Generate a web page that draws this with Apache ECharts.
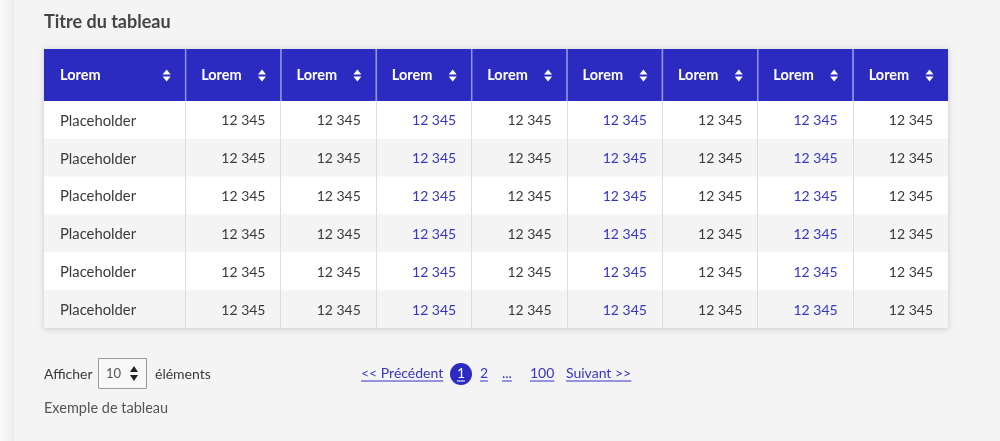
<!DOCTYPE html>
<html><head><meta charset="utf-8">
<script src="https://cdn.jsdelivr.net/npm/echarts@6/dist/echarts.min.js"></script>
<style>html,body{margin:0;padding:0;background:#f4f4f4}#c{width:1000px;height:441px}</style>
</head><body><div id="c"></div>
<script>
// ---- data ----
const title = 'Titre du tableau';
const headers = ['Lorem','Lorem','Lorem','Lorem','Lorem','Lorem','Lorem','Lorem','Lorem'];
const rowLabels = ['Placeholder','Placeholder','Placeholder','Placeholder','Placeholder','Placeholder'];
const values = [
  [12345,12345,12345,12345,12345,12345,12345,12345],
  [12345,12345,12345,12345,12345,12345,12345,12345],
  [12345,12345,12345,12345,12345,12345,12345,12345],
  [12345,12345,12345,12345,12345,12345,12345,12345],
  [12345,12345,12345,12345,12345,12345,12345,12345],
  [12345,12345,12345,12345,12345,12345,12345,12345]
];
const linkValueCols = [2,4,6];
const pageSizeLabel = ['Afficher','10','éléments'];
const pages = ['1','2','...','100'];
const prevLabel = '<< Précédent';
const nextLabel = 'Suivant >>';
const caption = 'Exemple de tableau';

// ---- layout constants ----
const FONT = 'Lato, "Noto Sans", sans-serif';
const BLUE = '#2b2bc2';
const LINK = '#3535c6';
const TEXT = '#3a3a3a';
const FIRST_W = 1.48;          // first column width in column units
const HEAD_H = 1.375;          // header height in row units
const nCols = headers.length;
const nRows = rowLabels.length;
const X_MAX = FIRST_W + (nCols - 1);
const Y_MAX = HEAD_H + nRows;
const colStart = c => c === 0 ? 0 : FIRST_W + (c - 1);
const colEnd = c => c === 0 ? FIRST_W : FIRST_W + c;
const fmt = v => String(v).replace(/\B(?=(\d{3})+(?!\d))/g, ' ');

const headerData = headers.map((h, i) => [i, h]);
const bodyData = [];
rowLabels.forEach((lab, r) => {
  bodyData.push([0, r, lab, 0]);
  values[r].forEach((v, j) => bodyData.push([j + 1, r, fmt(v), linkValueCols.includes(j) ? 1 : 0]));
});

const mctx = document.createElement('canvas').getContext('2d');
function tw(t, font) { mctx.font = font; return mctx.measureText(t).width; }

function sortIcon(cx, cy, color) {
  return [
    {type:'polygon', shape:{points:[[cx-4,cy-1],[cx+4,cy-1],[cx,cy-6]]}, style:{fill:color}},
    {type:'polygon', shape:{points:[[cx-4,cy+1],[cx+4,cy+1],[cx,cy+6]]}, style:{fill:color}}
  ];
}

const chart = echarts.init(document.getElementById('c'), null, {renderer:'canvas'});

// pagination graphics
const pagFont = '14px ' + FONT;
const pg = [];
function linkText(x, y, t, color) {
  const w = tw(t, pagFont);
  pg.push({type:'text', x:x, y:y, style:{text:t, fill:color, font:pagFont, textVerticalAlign:'middle'}});
  pg.push({type:'line', shape:{x1:x, y1:y+8, x2:x+w, y2:y+8}, style:{stroke:color, lineWidth:1}});
}
const py = 373;
linkText(361, py, prevLabel, LINK);
pg.push({type:'circle', shape:{cx:461, cy:py+1, r:11}, style:{fill:BLUE}});
(function(){ const w = tw(pages[0], pagFont); linkText(461 - w/2, py, pages[0], '#ffffff'); })();
linkText(480, py, pages[1], LINK);
linkText(502, py, pages[2], LINK);
linkText(530, py, pages[3], LINK);
linkText(566, py, nextLabel, LINK);

chart.setOption({
  backgroundColor:'#f4f4f4',
  animation:false,
  title:{text:title, left:44, top:13, padding:0, textStyle:{fontFamily:FONT, fontWeight:'bold', fontSize:18, color:'#444'}},
  grid:{left:44, top:49, width:904, height:279},
  xAxis:{type:'value', min:0, max:X_MAX, show:false},
  yAxis:{type:'value', min:0, max:Y_MAX, inverse:true, show:false},
  graphic:[
    {type:'rect', shape:{x:0, y:0, width:14, height:441}, z:-1,
     style:{fill:new echarts.graphic.LinearGradient(0,0,1,0,[{offset:0,color:'#fbfbfb'},{offset:0.6,color:'#f3f3f3'},{offset:1,color:'#ececec'}])}},
    {type:'text', x:44, y:374, style:{text:pageSizeLabel[0], font:'14px '+FONT, fill:TEXT, textVerticalAlign:'middle'}},
    {type:'rect', shape:{x:98.5, y:358.5, width:48, height:30}, style:{fill:'#f8f8f8', stroke:'#9a9a9a', lineWidth:1}},
    {type:'text', x:106, y:374, style:{text:pageSizeLabel[1], font:'13px '+FONT, fill:'#555', textVerticalAlign:'middle'}},
    {type:'polygon', shape:{points:[[130,372],[138,372],[134,366]]}, style:{fill:'#222'}},
    {type:'polygon', shape:{points:[[130,375],[138,375],[134,381]]}, style:{fill:'#222'}},
    {type:'text', x:155, y:374, style:{text:pageSizeLabel[2], font:'14px '+FONT, fill:TEXT, textVerticalAlign:'middle'}},
    {type:'text', x:44, y:408, style:{text:caption, font:'14.5px '+FONT, fill:'#555', textVerticalAlign:'middle'}}
  ].concat(pg),
  series:[
    { // table shadow / background
      type:'custom', z:1, data:[[0]],
      renderItem:function(params, api){
        const a = api.coord([0,0]), b = api.coord([X_MAX, Y_MAX]);
        return {type:'rect', shape:{x:a[0], y:a[1], width:b[0]-a[0], height:b[1]-a[1]},
          style:{fill:'#ffffff', shadowBlur:6, shadowColor:'rgba(0,0,0,0.18)', shadowOffsetY:1}};
      }
    },
    { // header
      type:'custom', z:3, data:headerData,
      renderItem:function(params, api){
        const c = api.value(0);
        const a = api.coord([colStart(c), 0]), b = api.coord([colEnd(c), HEAD_H]);
        const cy = (a[1]+b[1])/2;
        const ch = [
          {type:'rect', shape:{x:a[0], y:a[1], width:b[0]-a[0], height:b[1]-a[1]}, style:{fill:BLUE}},
          {type:'text', x:a[0]+16, y:cy+0.5, style:{text:headers[c], fill:'#fff', font:'bold 14.5px '+FONT, textVerticalAlign:'middle'}}
        ].concat(sortIcon(b[0]-18.5, cy+0.5, '#fff'));
        if (c > 0) ch.push({type:'line', shape:{x1:a[0]+0.5, y1:a[1], x2:a[0]+0.5, y2:b[1]}, style:{stroke:'#9494e2', lineWidth:1.5}});
        return {type:'group', children:ch};
      }
    },
    { // body
      type:'custom', z:2, data:bodyData,
      renderItem:function(params, api){
        const c = api.value(0), r = api.value(1);
        const d = bodyData[params.dataIndex];
        const a = api.coord([colStart(c), HEAD_H + r]), b = api.coord([colEnd(c), HEAD_H + r + 1]);
        const cy = (a[1]+b[1])/2 + 1;
        const ch = [
          {type:'rect', shape:{x:a[0], y:a[1], width:b[0]-a[0], height:b[1]-a[1]}, style:{fill: r % 2 ? '#f4f4f4' : '#ffffff'}}
        ];
        if (c === 0) ch.push({type:'text', x:a[0]+16, y:cy, style:{text:d[2], fill:TEXT, font:'14.8px '+FONT, textVerticalAlign:'middle'}});
        else ch.push({type:'text', x:b[0]-15, y:cy, style:{text:d[2], fill:d[3] ? LINK : TEXT, font:'14px '+FONT, textAlign:'right', textVerticalAlign:'middle'}});
        if (c > 0) ch.push({type:'line', shape:{x1:Math.round(a[0])+0.5, y1:a[1], x2:Math.round(a[0])+0.5, y2:b[1]}, style:{stroke:'#dddddd', lineWidth:1}});
        return {type:'group', children:ch};
      }
    }
  ]
});
</script></body></html>
